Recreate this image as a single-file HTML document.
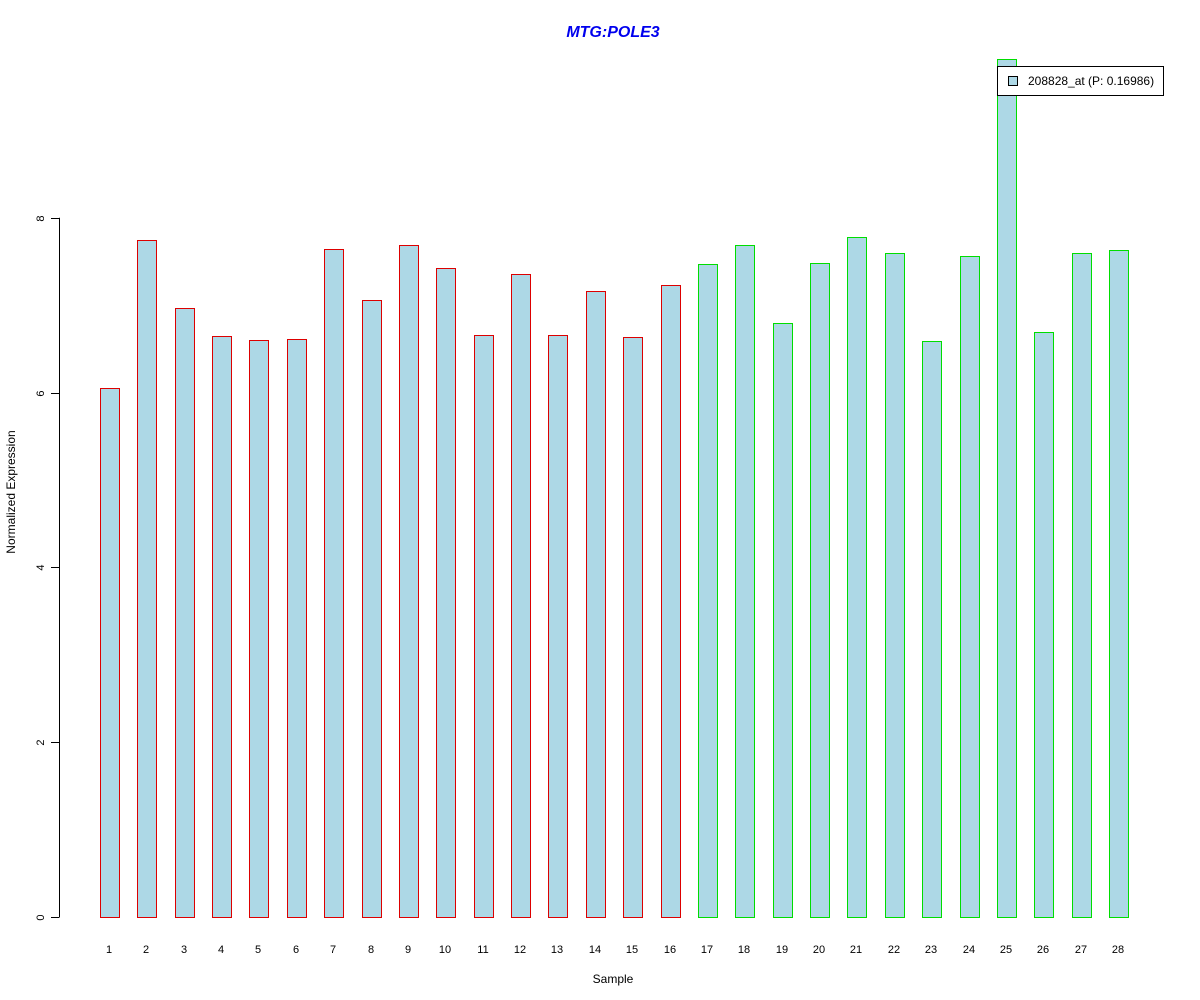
<!DOCTYPE html>
<html><head><meta charset="utf-8"><style>
body{margin:0;background:#fff}
svg{display:block;font-family:"Liberation Sans",Arial,sans-serif}
</style></head><body>
<svg id="chart" width="1200" height="1000" viewBox="0 0 1200 1000">
<rect width="1200" height="1000" fill="#fff"/>
<text x="613" y="37" text-anchor="middle" font-size="16" font-weight="bold" font-style="italic" fill="#0000ee">MTG:POLE3</text>
<text x="613" y="983" text-anchor="middle" font-size="12">Sample</text>
<text transform="translate(15,492) rotate(-90)" text-anchor="middle" font-size="12">Normalized Expression</text>
<g id="yaxis"></g>
<g id="bars"></g>
<g id="xlabels"></g>
<g>
<rect x="997.5" y="66.5" width="166" height="29" fill="#fff" stroke="#000"/>
<rect x="1008.5" y="76.5" width="9" height="9" fill="#add8e6" stroke="#000"/>
<text x="1028" y="85" font-size="12">208828_at (P: 0.16986)</text>
</g>
</svg>
<script>
const categories = ["1","2","3","4","5","6","7","8","9","10","11","12","13","14","15","16","17","18","19","20","21","22","23","24","25","26","27","28"];
const values = [6.05,7.75,6.97,6.65,6.60,6.61,7.64,7.06,7.69,7.43,6.66,7.36,6.66,7.16,6.64,7.23,7.47,7.69,6.80,7.48,7.78,7.60,6.59,7.56,9.82,6.69,7.60,7.63];
const groups = ["r","r","r","r","r","r","r","r","r","r","r","r","r","r","r","r","g","g","g","g","g","g","g","g","g","g","g","g"];
const yTicks = [0,2,4,6,8];
const NS="http://www.w3.org/2000/svg";
const y0=917, pxPerUnit=87.4;
const yScale=v=>y0-v*pxPerUnit;
const x0=100, step=37.37, bw=19;
const xScale=i=>x0+i*step;
function mk(tag,attrs,parent){const e=document.createElementNS(NS,tag);for(const k in attrs)e.setAttribute(k,attrs[k]);parent.appendChild(e);return e;}
const ya=document.getElementById('yaxis');
const axl=mk('line',{x1:59.5,x2:59.5,y1:yScale(yTicks[0]),y2:yScale(yTicks[yTicks.length-1]),stroke:'#000'},ya);


yTicks.forEach(t=>{
  const y=Math.round(yScale(t))+0.5;
  const tk=mk('line',{x1:51,x2:59.5,y1:y,y2:y,stroke:'#000'},ya);
  
  
  const tx=mk('text',{transform:`translate(44,${y}) rotate(-90)`,'text-anchor':'middle','font-size':11},ya);
  
  
  tx.textContent=t;
});
const bg=document.getElementById('bars'), xl=document.getElementById('xlabels');
values.forEach((v,i)=>{
  const x=Math.round(xScale(i))+0.5, yt=Math.round(yScale(v))+0.5;
  const r=mk('rect',{x:x,y:yt,width:bw,height:y0+0.5-yt,fill:'#add8e6',stroke:groups[i]==='r'?'#dd0000':'#00dd00'},bg);
  
  
  const t=mk('text',{x:x+bw/2-1,y:953,'text-anchor':'middle','font-size':11},xl);
  
  
  t.textContent=categories[i];
});
</script>
</body></html>
